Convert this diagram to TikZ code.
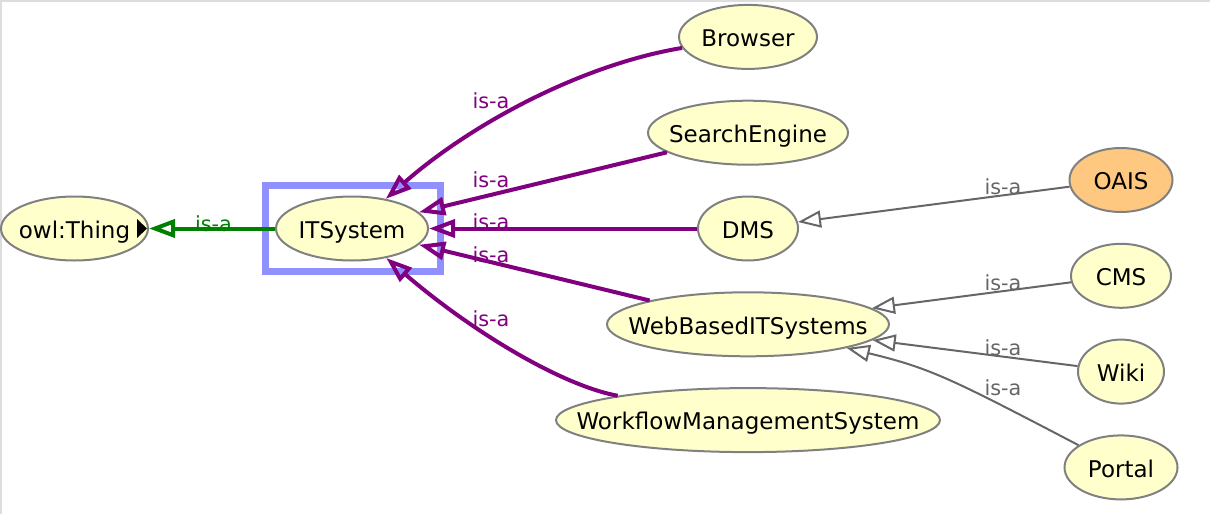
\documentclass[tikz,border=0pt]{standalone}
\usepackage{fontspec}
\setmainfont{DejaVu Sans}
\usepackage{tikz}
\usetikzlibrary{positioning, arrows.meta, shapes.geometric}
\definecolor{nodefill}{HTML}{FFFFCC}
\definecolor{oaisfill}{HTML}{FFC880}
\definecolor{nodeline}{HTML}{808080}
\definecolor{isagreen}{HTML}{008000}
\definecolor{isapurple}{HTML}{800080}
\definecolor{isagray}{HTML}{666666}
\definecolor{selblue}{HTML}{9090FF}
\definecolor{framegray}{HTML}{DDDDDD}
\newcommand{\classname}[1]{\makebox[0pt]{#1}}

\begin{document}
\begin{tikzpicture}[
    x=0.5pt, y=-0.5pt,
    classnode/.style={ellipse, draw=nodeline, line width=1pt, fill=nodefill, inner sep=0pt, minimum height=32pt, text height=9.8pt, text depth=0pt, font=\fontsize{11.5}{13}\selectfont},
    isa/.style={line width=2pt, -{Triangle[open, length=13pt, width=9pt]}},
    subisa/.style={draw=isagray, line width=1pt, -{Triangle[open, length=11.5pt, width=8.5pt]}},
    isalabel/.style={inner sep=0pt, font=\fontsize{10.4}{12}\selectfont}
]
\useasboundingbox (0,0) rectangle (1210,514);
\draw[framegray, line width=1pt] (1,514) -- (1,1) -- (1210,1);

% classes
\node[classnode, minimum width=76pt](its) at (352,228.5){\classname{ITSystem}};
\node[classnode, minimum width=73.5pt](thing)[left=63pt of its]{\classname{owl:Thing}};
\node[classnode, minimum width=50pt](dms)[right=134pt of its]{\classname{DMS}};
\node[classnode, minimum width=100pt](search)[above=14.9pt of dms]{\classname{SearchEngine}};
\node[classnode, minimum width=69pt](browser)[above=14.9pt of search]{\classname{Browser}};
\node[classnode, minimum width=141pt](web)[below=14.9pt of dms]{\classname{WebBasedITSystems}};
\node[classnode, minimum width=192pt](workflow)[below=14.9pt of web]{\classname{WorkflowManagementSystem}};
\node[classnode, minimum width=51.5pt, fill=oaisfill](oais) at (1121,180){\classname{OAIS}};
\node[classnode, minimum width=50pt](cms)[below=14.9pt of oais]{\classname{CMS}};
\node[classnode, minimum width=43pt](wiki)[below=14.9pt of cms]{\classname{Wiki}};
\node[classnode, minimum width=56.5pt](portal)[below=14.9pt of wiki]{\classname{Portal}};

% selection and expand marker
\draw[selblue, line width=3.5pt] (its.center) +(-86.5,-43) rectangle +(88.5,43);
\fill ([xshift=-1pt]thing.east) -- ++(-5pt,4.75pt) -- ++(0pt,-9.5pt) -- cycle;

% is-a edges
\draw[isa, isagreen] (its) -- (thing);
\draw[isa, isapurple] (browser) .. controls (580,65) and (470,125) .. (its);
\draw[isa, isapurple] (search) -- (its);
\draw[isa, isapurple] (dms) -- (its);
\draw[isa, isapurple] (web) -- (its);
\draw[isa, isapurple] (workflow) .. controls (560,385) and (470,330) .. (its);
\draw[subisa] (oais) -- (dms);
\draw[subisa] (cms) -- (web);
\draw[subisa] (wiki) -- (web);
\draw[subisa] (portal) .. controls (950,378) and (930,368) .. (web);

% labels
\node[isalabel, isagreen](l0) at (213.5,223.5){is-a};
\node[isalabel, isapurple](l1) at (491,101){is-a};
\node[isalabel, isapurple](l2) at (491,180){is-a};
\node[isalabel, isapurple](l3) at (491,222){is-a};
\node[isalabel, isapurple](l4) at (491,255){is-a};
\node[isalabel, isapurple](l5) at (491,318.5){is-a};
\node[isalabel, isagray](l6) at (1003,187){is-a};
\node[isalabel, isagray](l7) at (1003,283){is-a};
\node[isalabel, isagray](l8) at (1003,348){is-a};
\node[isalabel, isagray](l9) at (1003,388){is-a};
\end{tikzpicture}
\end{document}
